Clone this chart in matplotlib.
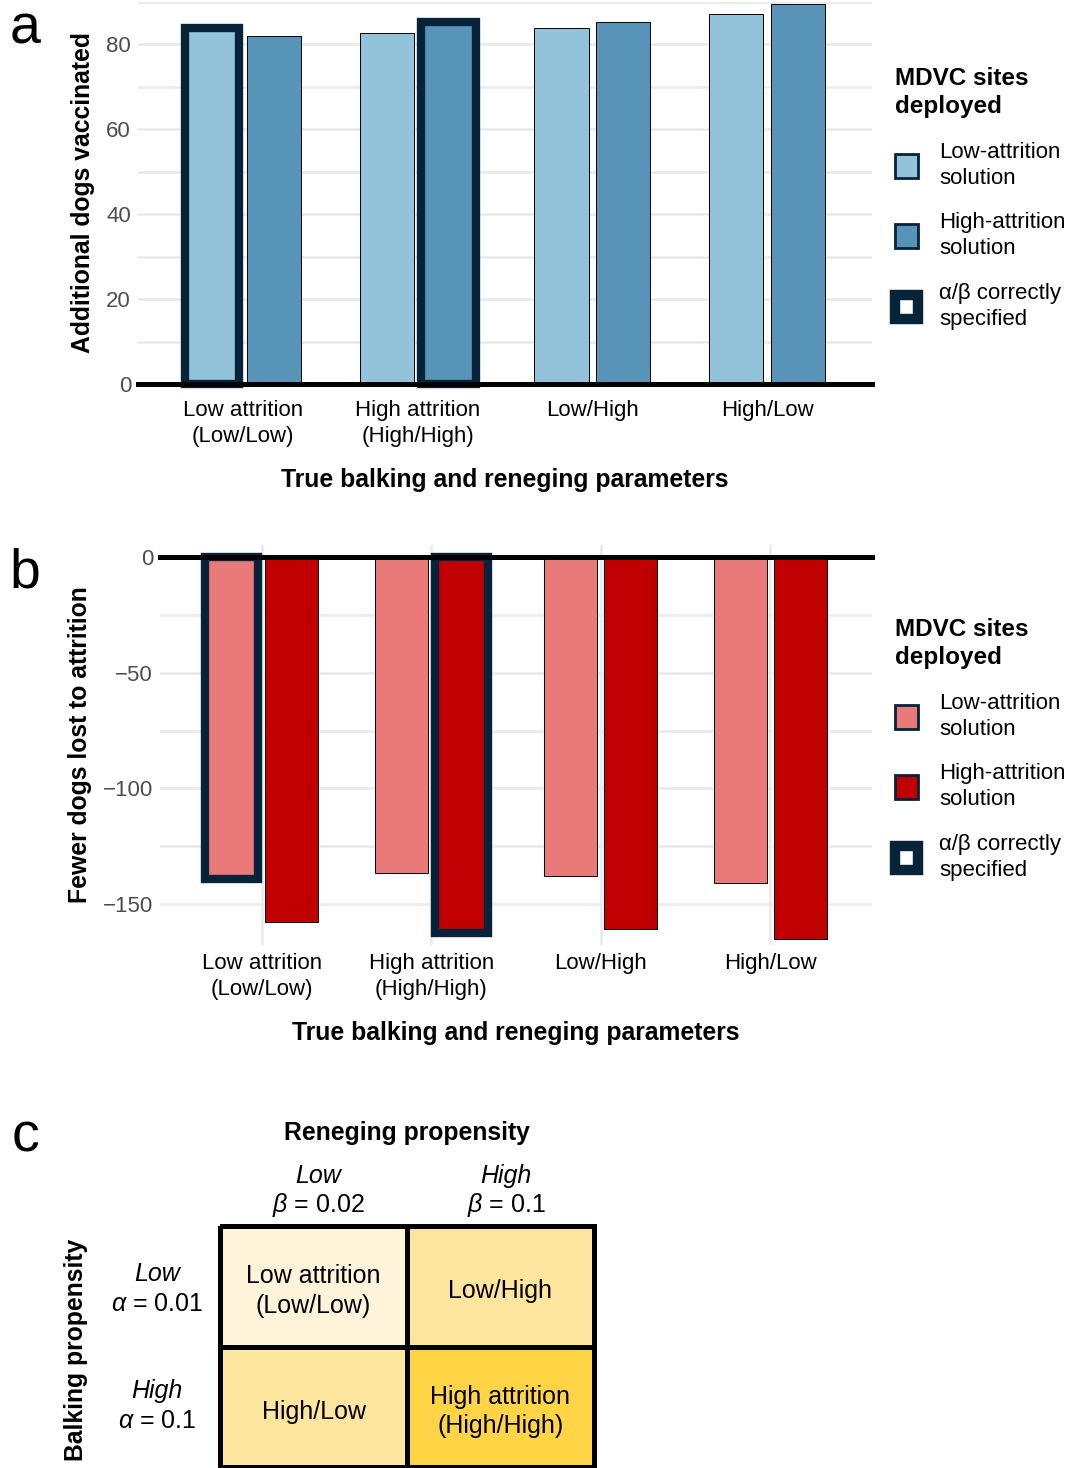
import matplotlib
matplotlib.use("Agg")
import matplotlib.pyplot as plt
from matplotlib.patches import Patch
from matplotlib.colors import ListedColormap
import numpy as np

plt.rcParams['font.family'] = ['Liberation Sans', 'DejaVu Sans']
plt.rcParams['mathtext.fontset'] = 'custom'
plt.rcParams['mathtext.rm'] = 'Liberation Sans'
plt.rcParams['mathtext.it'] = 'Liberation Sans:italic'

# ---------------- data ----------------
categories = ["Low attrition\n(Low/Low)", "High attrition\n(High/High)", "Low/High", "High/Low"]
vacc_low_sol = [83.8, 82.7, 83.9, 87.2]
vacc_high_sol = [82.0, 85.2, 85.3, 89.6]
lost_low_sol = [-139.0, -136.5, -137.9, -141.0]
lost_high_sol = [-157.6, -162.3, -161.0, -165.3]
correct_low = [True, False, False, False]
correct_high = [False, True, False, False]

legend_labels = ["Low-attrition\nsolution", "High-attrition\nsolution", "α/β correctly\nspecified"]

col_headers = ["Low", "High"]
col_params = [r"$\beta$ = 0.02", r"$\beta$ = 0.1"]
row_headers = ["Low", "High"]
row_params = [r"$\alpha$ = 0.01", r"$\alpha$ = 0.1"]
cell_labels = [["Low attrition\n(Low/Low)", "Low/High"],
               ["High/Low", "High attrition\n(High/High)"]]
attrition_level = [[0, 1], [1, 2]]

# ---------------- style ----------------
W, H = 1072, 1468
LIGHT_BLUE = "#93C3DA"
DARK_BLUE = "#5894B8"
LIGHT_RED = "#EA7979"
DARK_RED = "#C00000"
NAVY = "#06233A"
GRID = "#EBEBEB"
TICK = "#4D4D4D"
HEAT = ["#FFF4D9", "#FFE69E", "#FFD545"]

FS_TICK = 16
FS_TITLE = 17.8
FS_C = 18

fig = plt.figure(figsize=(W / 100, H / 100), dpi=100)


def fa(l, t, r, b):
    return [l / W, 1 - b / H, (r - l) / W, (b - t) / H]


x = np.arange(1, len(categories) + 1)
width = 0.31
off = 0.177


def bar_panel(ax, low, high, colors, ylim, major, minor, xgrid, ylabel, xpad, labelpad):
    ax.set_xlim(0.4, 4.6)
    ax.set_ylim(*ylim)
    for s in ax.spines.values():
        s.set_visible(False)
    ax.set_axisbelow(True)
    ax.set_yticks(major)
    ax.set_yticks(minor, minor=True)
    ax.grid(True, axis='y', which='both', color=GRID, lw=1.9)
    if xgrid:
        ax.grid(True, axis='x', which='major', color=GRID, lw=1.9)
    ax.set_xticks(x)
    ax.set_xticklabels(categories, linespacing=1.3)
    ax.tick_params(axis='both', which='both', length=0, labelsize=FS_TICK, labelcolor=TICK)
    ax.tick_params(axis='x', pad=xpad, labelcolor='black')
    ax.tick_params(axis='y', pad=5)
    ax.bar(x - off, low, width, color=colors[0], edgecolor='black', lw=0.7, zorder=2)
    ax.bar(x + off, high, width, color=colors[1], edgecolor='black', lw=0.7, zorder=2)
    # outlines for correctly specified
    for i in range(len(x)):
        if correct_low[i]:
            ax.bar(x[i] - off, low[i], width, fill=False, edgecolor=NAVY, lw=6, zorder=3, clip_on=False)
        if correct_high[i]:
            ax.bar(x[i] + off, high[i], width, fill=False, edgecolor=NAVY, lw=6, zorder=3, clip_on=False)
    ax.axhline(0, color='black', lw=3.6, zorder=4, clip_on=False)
    ax.set_xlabel("True balking and reneging parameters", fontsize=FS_TITLE, fontweight='bold',
                  labelpad=labelpad)
    ax.set_ylabel(ylabel, fontsize=FS_TITLE, fontweight='bold', labelpad=8)


def legend(ax, colors, top_px):
    handles = [Patch(facecolor=colors[0], edgecolor=NAVY, lw=2),
               Patch(facecolor=colors[1], edgecolor=NAVY, lw=2),
               Patch(facecolor='white', edgecolor=NAVY, lw=7.5)]
    leg = ax.legend(handles, legend_labels, loc='upper left',
                    bbox_to_anchor=(886 / W, 1 - top_px / H), bbox_transform=fig.transFigure,
                    frameon=False, fontsize=FS_TICK, title="MDVC sites\ndeployed",
                    title_fontproperties={'weight': 'bold', 'size': 17.5},
                    alignment='left', handlelength=1.05, handleheight=1.3,
                    handletextpad=0.95, labelspacing=1.05, borderaxespad=0)
    for t in leg.get_texts():
        t.set_linespacing(1.32)
    leg.get_title().set_linespacing(1.3)
    return leg


# ---------------- panel a ----------------
ax_a = fig.add_axes(fa(138, 2, 872, 384))
bar_panel(ax_a, vacc_low_sol, vacc_high_sol, (LIGHT_BLUE, DARK_BLUE), (0, 90),
          [0, 20, 40, 60, 80], [10, 30, 50, 70, 90], False, "Additional dogs vaccinated", 11.5, 15)
legend(ax_a, (LIGHT_BLUE, DARK_BLUE), 58)

# ---------------- panel b ----------------
ax_b = fig.add_axes(fa(160, 545, 872, 945))
bar_panel(ax_b, lost_low_sol, lost_high_sol, (LIGHT_RED, DARK_RED), (-167.7, 5.2),
          [0, -50, -100, -150], [-25, -75, -125], True, "Fewer dogs lost to attrition", 5.8, 15)
legend(ax_b, (LIGHT_RED, DARK_RED), 609)

# ---------------- panel c ----------------
ax_c = fig.add_axes(fa(220, 1226, 594, 1467))
mesh = ax_c.pcolormesh(np.array(attrition_level), cmap=ListedColormap(HEAT), vmin=-0.5, vmax=2.5,
                       edgecolors='black', linewidth=3.5)
mesh.set_clip_on(False)
ax_c.set_xlim(0, 2)
ax_c.set_ylim(2, 0)
ax_c.axis('off')
for r in range(2):
    for c in range(2):
        ax_c.text(c + 0.5, r + 0.54, cell_labels[r][c], ha='center', va='center',
                  fontsize=FS_C, linespacing=1.3)

col_x = [318, 506]
for i in range(2):
    fig.text(col_x[i] / W, 1 - 1176 / H, col_headers[i], ha='center', va='center',
             fontsize=FS_C, style='italic')
    fig.text(col_x[i] / W, 1 - 1205 / H, col_params[i], ha='center', va='center', fontsize=FS_C)
row_y = [1274, 1391]
for i in range(2):
    fig.text(157 / W, 1 - row_y[i] / H, row_headers[i], ha='center', va='center',
             fontsize=FS_C, style='italic')
    fig.text(157 / W, 1 - (row_y[i] + 30) / H, row_params[i], ha='center', va='center', fontsize=FS_C)
fig.text(407 / W, 1 - 1133 / H, "Reneging propensity", ha='center', va='center',
         fontsize=FS_TITLE, fontweight='bold')
fig.text(76 / W, 1 - 1350 / H, "Balking propensity", ha='center', va='center',
         fontsize=FS_TITLE, fontweight='bold', rotation=90)

# panel letters
for lab, yy in (("a", 30), ("b", 573), ("c", 1138)):
    fig.text(25 / W, 1 - yy / H, lab, ha='center', va='center', fontsize=40)

fig.savefig("out.png", dpi=100)
